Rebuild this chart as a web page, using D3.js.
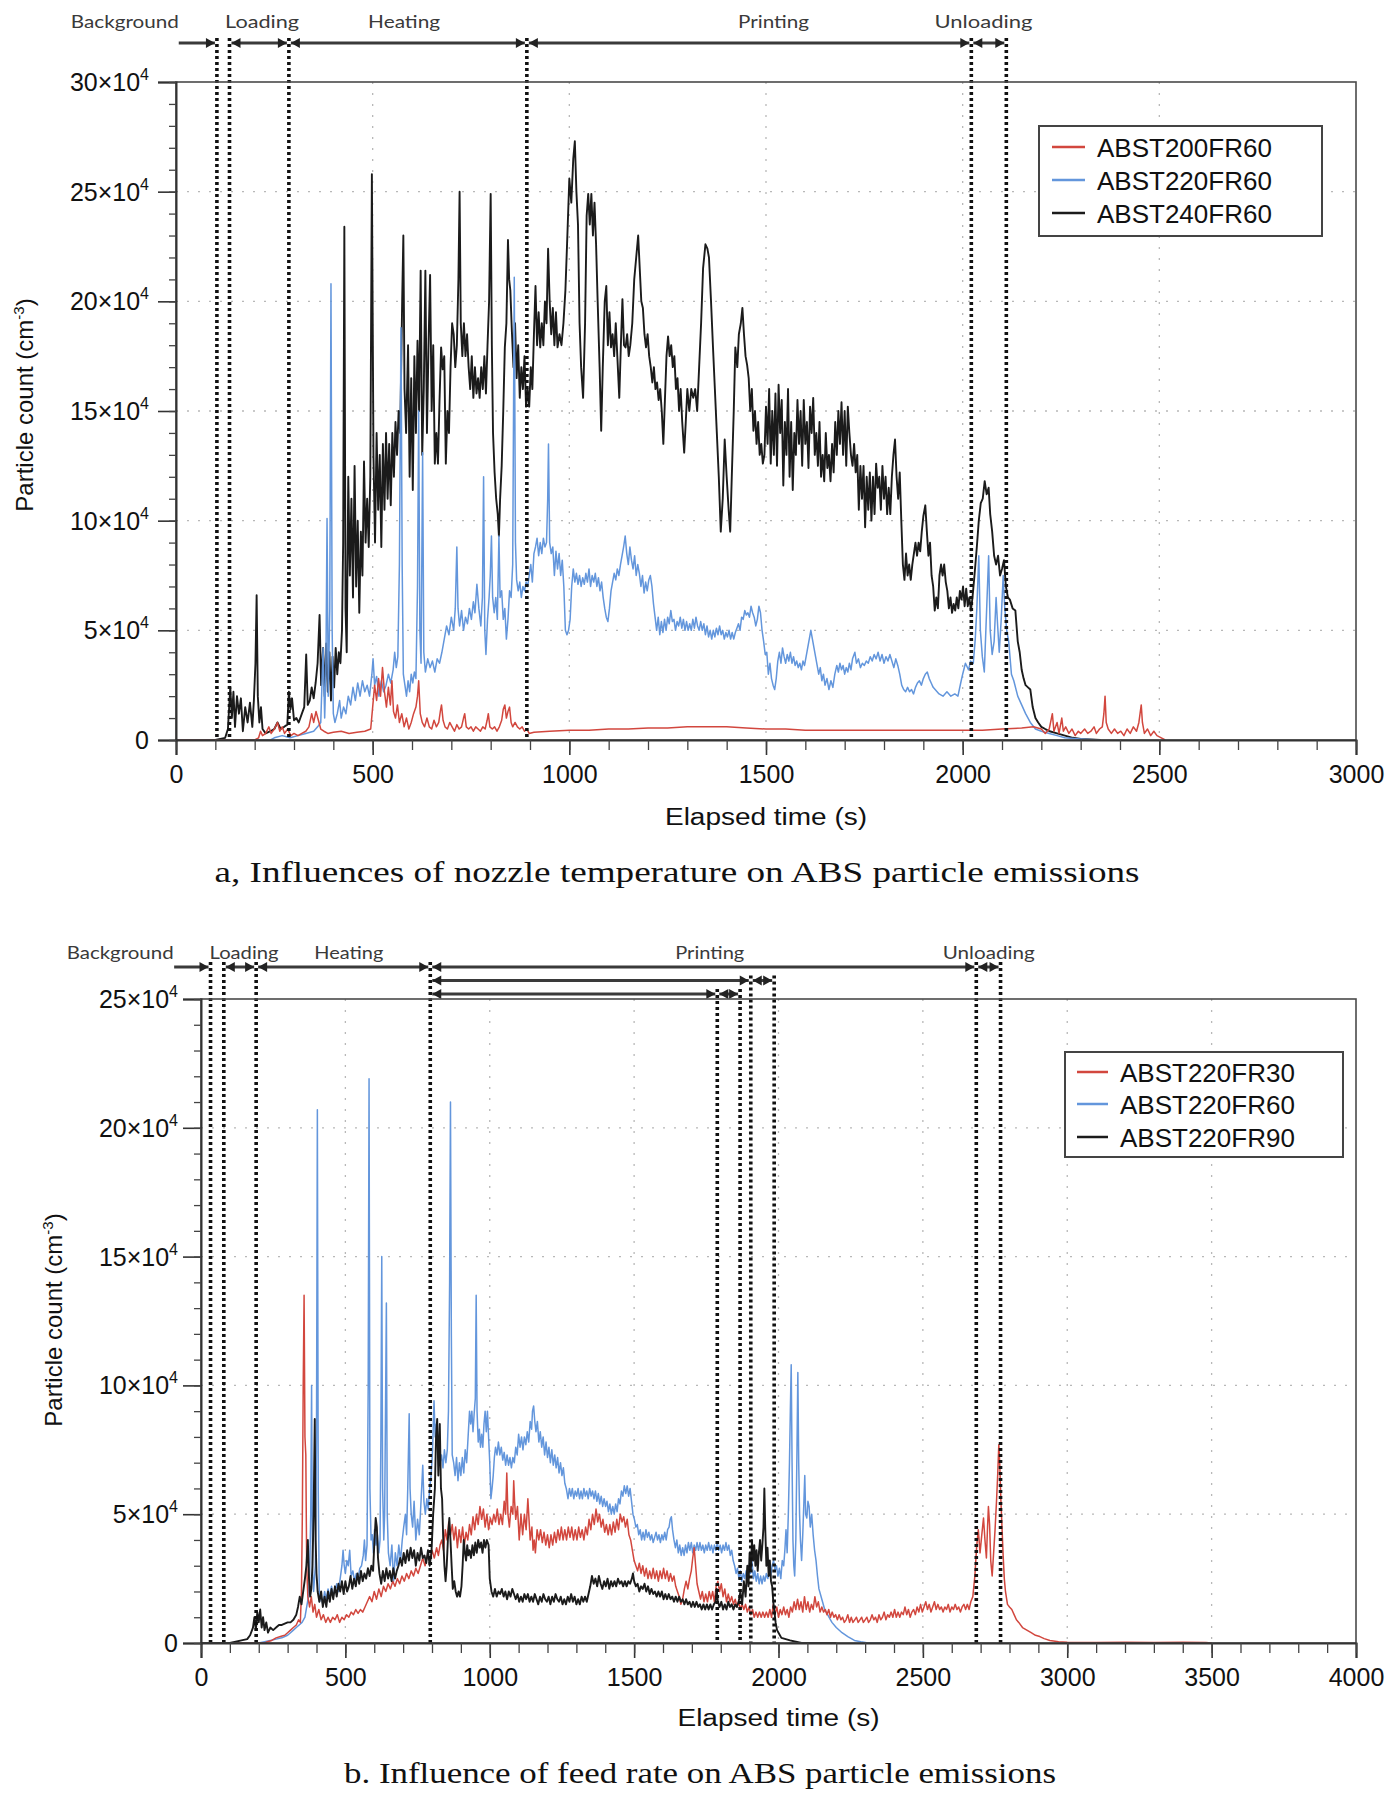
<!DOCTYPE html>
<html><head><meta charset="utf-8">
<script src="https://cdn.jsdelivr.net/npm/d3@7"></script>
<style>body{margin:0;background:#fff}svg{display:block}</style>
</head><body>
<svg id="fig" width="1400" height="1800"></svg>
<script>
// ---------- DATA (particle count in units of 10^4 cm^-3, time in s) ----------
const xTicksA=[0,500,1000,1500,2000,2500,3000];
const yTicksA=[0,5,10,15,20,25,30];
const xTicksB=[0,500,1000,1500,2000,2500,3000,3500,4000];
const yTicksB=[0,5,10,15,20,25];
const seriesNamesA=["ABST200FR60","ABST220FR60","ABST240FR60"];
const seriesNamesB=["ABST220FR30","ABST220FR60","ABST220FR90"];
const phaseNames=["Background","Loading","Heating","Printing","Unloading"];
const phaseLabelTA=[-130,219,580,1519,2053];
const phaseLabelTB=[-280,149,512,1762,2728];
const phaseLinesA=[104,136,287,892,2022,2111];
const arrowStartA=[7,136,287,892,2022];
const arrowEndA=[104,287,892,2022,2111];
const arrowLeftHeadA=[false,true,true,true,true];
const phaseLinesB=[33,79,191,794,1788,1867,1904,1985,2685,2769];
const phaseLineRowB=[0,0,0,0,2,2,1,1,0,0];
const arrowStartB=[-93,79,191,794,2685,794,1904,794,1788];
const arrowEndB=[33,191,794,2685,2769,1904,1985,1788,1867];
const arrowRowB=[0,0,0,0,0,1,1,2,2];
const arrowLeftHeadB=[false,true,true,true,true,true,true,true,true];

const abst200fr60=[[0,0],[200,0],[210,0.1],[215,0.4],[220,0.2],[228,0.3],[236,0.6],[242,0.3],[250,0.5],[258,0.8],[264,0.4],[270,0.6],[276,0.3],[284,0.5],[292,0.2],[300,0.3],[310,0.2],[320,0.3],[330,0.4],[338,0.6],[345,1.2],[350,0.8],[356,1.3],[362,0.9],[368,0.5],[376,0.4],[386,0.3],[400,0.35],[420,0.4],[440,0.3],[460,0.35],[480,0.4],[495,0.5],[500,1.5],[505,2.5],[510,1.8],[515,2.8],[520,2.0],[525,3.3],[530,2.2],[535,1.5],[540,2.4],[545,1.6],[549,2.7],[553,1.3],[558,1.0],[563,1.6],[568,0.8],[574,1.2],[580,0.6],[586,1.0],[592,0.5],[598,0.8],[604,1.2],[610,1.5],[614,2.0],[617,2.7],[621,1.2],[626,0.8],[632,0.6],[638,1.0],[644,0.6],[650,0.5],[656,0.9],[662,0.6],[668,0.8],[672,1.3],[675,1.6],[679,0.9],[684,0.6],[690,0.5],[696,0.8],[702,0.6],[708,0.4],[714,0.7],[720,0.5],[726,0.6],[731,1.0],[734,1.2],[738,0.6],[744,0.5],[750,0.6],[756,0.4],[762,0.6],[768,0.5],[774,0.4],[780,0.6],[786,0.5],[791,0.9],[794,1.2],[798,0.6],[804,0.5],[810,0.6],[816,0.4],[822,0.6],[828,0.9],[832,1.4],[836,1.6],[840,1.0],[844,1.3],[848,1.5],[852,0.8],[856,0.6],[862,0.8],[868,0.6],[874,0.5],[880,0.6],[886,0.4],[892,0.5],[898,0.3],[910,0.35],[950,0.4],[1000,0.45],[1050,0.45],[1100,0.5],[1150,0.5],[1200,0.55],[1250,0.55],[1300,0.6],[1350,0.6],[1400,0.6],[1450,0.55],[1500,0.5],[1550,0.5],[1600,0.45],[1650,0.45],[1700,0.45],[1750,0.45],[1800,0.45],[1850,0.45],[1900,0.45],[1950,0.45],[2000,0.45],[2050,0.45],[2100,0.5],[2150,0.55],[2180,0.6],[2200,0.5],[2210,0.3],[2220,0.5],[2228,1.2],[2232,0.4],[2240,0.8],[2245,0.3],[2252,1.0],[2256,0.4],[2262,0.6],[2270,0.3],[2278,0.5],[2286,0.2],[2294,0.4],[2300,0.3],[2310,0.5],[2318,0.3],[2326,0.4],[2334,0.6],[2340,0.3],[2348,0.5],[2355,0.6],[2359,1.2],[2362,2.0],[2365,0.8],[2370,0.5],[2378,0.3],[2386,0.5],[2394,0.3],[2402,0.4],[2410,0.2],[2418,0.5],[2426,0.3],[2434,0.6],[2442,0.4],[2448,0.8],[2451,1.2],[2454,1.6],[2457,0.8],[2462,0.3],[2470,0.5],[2478,0.2],[2486,0.4],[2494,0.2],[2505,0.1],[2515,0]];

const abst220fr60A=[[0,0],[240,0],[250,0.1],[270,0.2],[290,0.1],[310,0.2],[330,0.3],[350,0.4],[360,0.6],[368,0.8],[374,4.2],[378,1.0],[381,3.0],[384,10.1],[387,2.0],[391,6.0],[394,20.8],[397,5.0],[400,1.2],[404,0.8],[410,1.2],[416,1.8],[420,1.0],[426,1.5],[432,1.2],[438,2.0],[444,1.6],[450,2.4],[456,1.8],[462,2.6],[468,2.0],[474,2.7],[480,2.2],[486,2.5],[492,2.0],[498,3.0],[501,3.7],[505,2.5],[510,2.9],[516,2.0],[522,2.7],[528,2.2],[534,2.5],[540,3.0],[546,2.6],[552,3.2],[556,4.0],[560,3.3],[564,3.8],[568,8.0],[572,18.8],[575,8.0],[578,3.0],[582,2.5],[586,2.0],[590,2.7],[594,2.2],[598,3.0],[602,2.6],[606,3.1],[610,2.8],[614,7.0],[617,15.0],[620,5.0],[623,3.5],[627,13.1],[630,4.0],[634,3.1],[640,3.7],[646,3.3],[652,3.6],[658,3.1],[664,3.7],[670,3.5],[676,4.0],[682,4.6],[688,5.2],[694,4.8],[700,5.6],[706,5.0],[710,6.0],[714,8.8],[717,6.0],[721,5.2],[726,5.9],[731,5.0],[736,5.6],[741,5.3],[746,6.0],[751,5.5],[756,6.3],[760,5.8],[765,7.1],[770,6.0],[775,5.2],[779,6.5],[782,12.0],[785,5.0],[788,3.9],[792,5.5],[796,6.5],[799,7.5],[802,9.3],[805,6.5],[809,5.8],[813,6.5],[817,5.5],[821,9.3],[824,6.5],[828,6.8],[832,5.5],[836,6.0],[840,4.6],[844,5.5],[848,6.8],[852,6.5],[856,8.0],[860,21.1],[863,9.0],[866,7.3],[870,6.8],[874,7.2],[878,6.5],[882,7.0],[886,6.8],[890,7.2],[894,7.0],[898,7.5],[902,8.0],[906,7.2],[910,8.5],[914,8.8],[918,9.2],[922,8.4],[926,9.0],[930,8.5],[934,9.2],[938,8.8],[942,9.0],[945,11.0],[947,13.5],[950,9.0],[954,8.5],[958,8.8],[962,7.5],[966,8.6],[970,7.8],[974,8.5],[978,7.5],[982,8.2],[986,7.0],[990,5.0],[994,4.8],[998,5.0],[1002,5.5],[1006,7.0],[1010,7.8],[1014,7.2],[1018,7.6],[1022,7.1],[1026,7.5],[1030,7.0],[1034,7.4],[1038,7.1],[1042,7.6],[1046,7.2],[1050,7.8],[1054,7.0],[1058,7.5],[1062,7.2],[1066,7.6],[1070,7.0],[1074,7.4],[1078,6.8],[1082,7.2],[1086,6.5],[1090,6.0],[1094,5.6],[1098,5.4],[1102,6.0],[1106,6.8],[1110,7.2],[1114,7.6],[1118,7.3],[1122,7.8],[1126,7.5],[1130,8.0],[1134,8.4],[1138,8.8],[1142,9.3],[1146,8.5],[1150,8.0],[1154,8.8],[1158,8.2],[1162,7.8],[1166,8.4],[1170,7.5],[1174,8.0],[1178,7.6],[1182,7.0],[1186,7.5],[1190,6.7],[1194,7.2],[1198,6.8],[1202,7.3],[1206,7.5],[1210,7.0],[1214,6.2],[1218,5.6],[1222,5.0],[1226,5.6],[1230,4.8],[1234,5.4],[1238,4.9],[1242,5.5],[1246,5.0],[1250,5.6],[1254,5.3],[1258,5.9],[1262,5.4],[1266,5.5],[1270,5.0],[1274,5.4],[1278,5.2],[1282,5.6],[1286,5.1],[1290,5.5],[1294,5.0],[1298,5.4],[1302,5.0],[1306,5.3],[1310,5.0],[1314,5.5],[1318,5.1],[1322,5.6],[1326,5.2],[1330,5.0],[1334,5.4],[1338,5.0],[1342,5.3],[1346,4.8],[1350,5.2],[1354,4.7],[1358,5.0],[1362,4.6],[1366,5.0],[1370,4.7],[1374,5.1],[1378,4.8],[1382,5.2],[1386,4.8],[1390,5.0],[1394,4.6],[1398,4.9],[1402,4.7],[1406,5.0],[1410,4.6],[1414,4.9],[1418,4.6],[1422,4.9],[1426,5.1],[1430,5.3],[1434,5.0],[1438,5.6],[1442,5.5],[1446,5.9],[1450,5.7],[1454,5.8],[1458,5.6],[1462,6.1],[1466,5.8],[1470,5.6],[1474,5.2],[1478,5.5],[1482,6.1],[1486,5.8],[1490,5.0],[1494,4.5],[1498,3.9],[1502,4.0],[1506,3.0],[1510,3.5],[1514,2.8],[1518,2.5],[1522,2.3],[1526,2.8],[1530,3.6],[1534,4.0],[1538,3.5],[1542,4.2],[1546,3.8],[1550,3.5],[1554,3.9],[1558,3.6],[1562,4.0],[1566,3.5],[1570,3.8],[1574,3.4],[1578,3.6],[1582,3.3],[1586,3.5],[1590,3.2],[1594,3.6],[1598,3.4],[1602,3.8],[1606,4.2],[1610,4.6],[1614,5.0],[1618,4.6],[1622,4.2],[1626,3.8],[1630,3.4],[1634,3.0],[1638,3.3],[1642,2.7],[1646,3.0],[1650,2.5],[1655,2.8],[1660,2.3],[1665,2.7],[1670,2.4],[1675,3.0],[1680,3.4],[1684,3.1],[1688,3.5],[1692,3.2],[1696,3.4],[1700,3.0],[1704,3.3],[1708,3.1],[1712,3.5],[1716,3.2],[1720,3.7],[1726,4.0],[1730,3.5],[1735,3.7],[1740,3.3],[1745,3.5],[1750,3.4],[1755,3.6],[1760,3.5],[1765,3.8],[1770,3.6],[1775,3.9],[1780,3.7],[1785,4.0],[1790,3.6],[1795,3.9],[1800,3.5],[1805,3.8],[1810,3.6],[1815,3.9],[1820,3.6],[1825,3.3],[1830,3.7],[1835,3.4],[1840,3.0],[1845,2.5],[1850,2.3],[1855,2.2],[1860,2.4],[1865,2.2],[1870,2.3],[1875,2.1],[1880,2.4],[1885,2.6],[1890,2.7],[1895,2.5],[1900,2.8],[1905,3.0],[1910,3.1],[1915,2.8],[1920,2.6],[1925,2.4],[1930,2.3],[1940,2.1],[1950,2.0],[1960,2.2],[1970,2.0],[1980,2.1],[1988,2.0],[1995,2.6],[2000,3.0],[2007,3.5],[2015,3.2],[2020,3.6],[2027,3.5],[2032,4.6],[2036,6.0],[2041,8.4],[2045,5.0],[2050,3.8],[2055,3.1],[2060,5.5],[2066,8.4],[2070,5.0],[2075,3.9],[2080,4.5],[2085,6.5],[2089,5.2],[2093,4.0],[2098,5.5],[2103,7.5],[2107,6.0],[2112,5.0],[2117,4.5],[2124,3.0],[2130,2.7],[2140,2.0],[2150,1.6],[2160,1.2],[2172,0.8],[2185,0.5],[2200,0.4],[2220,0.3],[2240,0.2],[2260,0.1],[2300,0.05],[2350,0]];

const abst240fr60=[[0,0],[100,0],[125,0.1],[132,0.5],[138,2.4],[142,1.0],[146,2.2],[150,0.6],[155,2.0],[160,1.2],[165,1.9],[170,0.4],[176,1.5],[182,0.8],[188,1.7],[194,0.6],[198,1.8],[202,3.5],[205,6.6],[208,2.0],[212,0.8],[216,1.5],[220,0.5],[228,0.3],[240,0.4],[250,0.5],[258,0.8],[266,0.5],[275,0.6],[283,0.7],[287,2.2],[291,1.4],[295,1.9],[300,0.9],[306,1.0],[312,0.8],[320,1.2],[326,1.5],[331,3.9],[335,1.6],[340,1.8],[345,2.4],[350,1.9],[355,2.6],[360,3.5],[365,5.7],[369,2.5],[374,4.2],[378,2.0],[382,4.4],[386,2.2],[390,4.0],[394,1.8],[398,3.8],[402,2.4],[406,4.2],[410,3.0],[414,4.0],[418,3.5],[422,5.0],[425,9.0],[428,23.4],[431,6.0],[434,4.0],[438,12.0],[442,7.5],[446,11.0],[450,6.5],[454,12.5],[458,7.0],[462,10.0],[466,5.8],[470,9.5],[474,7.5],[478,12.7],[482,9.0],[486,11.0],[490,8.8],[494,12.0],[498,25.8],[502,13.0],[506,9.0],[510,14.0],[514,10.5],[518,13.0],[522,8.8],[526,13.5],[530,10.5],[534,14.0],[538,11.0],[542,13.5],[546,10.7],[550,14.0],[554,12.0],[558,14.5],[562,13.0],[566,15.0],[570,14.0],[575,20.0],[578,23.0],[581,16.0],[585,14.0],[590,18.0],[594,12.0],[598,16.5],[602,11.4],[606,17.5],[610,14.0],[614,18.2],[618,15.0],[622,21.4],[626,13.0],[630,16.0],[634,21.4],[638,14.0],[642,18.0],[646,21.2],[650,15.0],[654,18.0],[658,12.6],[662,14.0],[666,12.6],[670,15.5],[674,17.9],[678,16.9],[682,17.5],[686,12.6],[690,15.0],[694,14.0],[698,17.0],[702,19.0],[706,18.5],[710,17.0],[714,18.0],[718,21.0],[721,25.0],[724,19.0],[728,17.5],[732,19.0],[736,17.5],[740,18.5],[744,17.0],[748,16.0],[752,17.5],[756,15.6],[760,17.0],[764,15.8],[768,16.5],[772,15.6],[776,17.0],[780,16.0],[784,17.5],[788,15.8],[792,18.0],[796,20.0],[800,24.9],[803,18.0],[806,14.0],[810,12.2],[814,11.0],[818,10.3],[821,9.3],[824,11.0],[828,12.5],[832,15.0],[836,17.9],[840,19.0],[844,22.8],[847,21.0],[850,20.5],[854,18.6],[858,17.0],[862,19.0],[866,16.5],[870,18.0],[874,15.6],[878,17.0],[882,16.0],[886,17.5],[890,15.2],[894,16.0],[898,15.2],[902,17.0],[906,16.0],[910,18.5],[914,20.7],[918,18.0],[922,19.5],[926,17.9],[930,19.0],[934,18.0],[938,20.0],[942,19.0],[946,22.4],[950,20.0],[954,18.5],[958,19.7],[962,18.0],[966,19.5],[970,17.9],[975,18.5],[980,18.0],[985,19.0],[990,20.5],[995,23.0],[1000,25.6],[1005,24.5],[1010,26.5],[1014,27.3],[1018,25.0],[1022,23.5],[1026,19.0],[1030,17.0],[1035,15.6],[1040,19.0],[1044,23.9],[1048,24.9],[1052,23.5],[1056,24.9],[1060,23.0],[1064,24.5],[1068,22.6],[1072,20.0],[1077,17.0],[1081,14.1],[1085,17.0],[1090,20.0],[1094,20.7],[1098,18.0],[1102,19.5],[1106,17.9],[1110,18.5],[1114,17.5],[1118,19.0],[1122,17.5],[1127,15.6],[1131,18.0],[1135,20.1],[1139,18.0],[1143,17.9],[1147,18.5],[1151,17.5],[1155,18.0],[1160,19.0],[1165,21.0],[1170,22.0],[1175,23.0],[1179,21.5],[1183,20.0],[1187,19.7],[1191,18.5],[1195,17.9],[1199,18.5],[1203,17.5],[1207,17.0],[1211,16.3],[1215,17.0],[1219,16.0],[1223,16.3],[1227,15.5],[1231,16.0],[1235,15.0],[1239,13.5],[1243,15.5],[1247,17.5],[1251,18.4],[1255,17.5],[1259,18.0],[1263,17.0],[1267,17.5],[1271,16.0],[1275,16.5],[1279,15.0],[1283,16.0],[1287,14.5],[1292,13.1],[1296,14.5],[1300,16.0],[1305,15.0],[1310,16.0],[1315,15.6],[1320,16.0],[1325,15.0],[1330,17.0],[1335,19.0],[1340,21.5],[1346,22.6],[1351,22.4],[1355,22.0],[1360,20.1],[1365,18.0],[1370,16.0],[1375,14.0],[1380,12.0],[1385,9.5],[1390,11.0],[1395,13.7],[1400,12.0],[1405,10.5],[1409,9.5],[1413,12.0],[1418,15.0],[1422,17.9],[1427,17.0],[1431,18.5],[1436,19.0],[1440,19.7],[1444,18.5],[1448,17.5],[1452,17.1],[1456,16.5],[1460,15.0],[1464,16.0],[1468,14.1],[1472,15.0],[1476,13.5],[1480,14.5],[1484,13.0],[1488,13.5],[1492,12.6],[1496,13.0],[1500,15.2],[1504,13.5],[1508,16.0],[1512,12.6],[1516,15.0],[1520,13.0],[1524,15.8],[1528,12.5],[1532,16.2],[1536,14.0],[1540,15.5],[1544,11.6],[1548,14.5],[1552,13.0],[1556,16.0],[1560,12.0],[1564,14.5],[1568,11.4],[1572,14.0],[1576,13.0],[1580,15.5],[1584,13.5],[1588,15.0],[1592,12.5],[1596,15.5],[1600,13.5],[1604,14.5],[1608,12.4],[1612,15.2],[1616,14.0],[1620,15.6],[1624,13.0],[1628,14.0],[1632,12.5],[1636,14.5],[1640,12.0],[1644,13.0],[1648,11.8],[1652,14.0],[1656,12.4],[1660,13.0],[1664,11.8],[1668,13.5],[1672,12.2],[1676,14.5],[1680,13.0],[1684,15.0],[1688,13.5],[1692,15.4],[1696,13.0],[1700,15.0],[1704,12.5],[1708,15.2],[1712,14.0],[1716,13.0],[1720,12.5],[1724,13.5],[1728,12.2],[1732,13.0],[1736,10.5],[1740,12.5],[1744,11.0],[1748,12.5],[1752,9.7],[1756,12.0],[1760,10.5],[1764,12.2],[1768,10.0],[1772,12.0],[1776,10.3],[1780,12.6],[1784,11.5],[1788,12.0],[1792,10.5],[1796,12.5],[1800,11.0],[1804,12.0],[1808,10.3],[1812,11.5],[1816,10.3],[1820,12.0],[1824,13.0],[1828,13.7],[1832,12.0],[1836,11.0],[1840,12.2],[1844,10.0],[1848,8.0],[1852,7.3],[1856,8.5],[1860,7.5],[1864,8.0],[1868,7.3],[1872,8.0],[1876,8.5],[1880,9.0],[1884,8.4],[1888,9.0],[1892,8.6],[1896,9.5],[1900,10.2],[1905,10.7],[1909,9.5],[1913,8.4],[1917,9.0],[1921,7.5],[1925,7.0],[1929,5.9],[1933,6.5],[1937,6.0],[1941,7.5],[1945,8.0],[1949,7.5],[1953,8.0],[1957,7.2],[1961,6.8],[1965,6.0],[1969,6.5],[1973,5.8],[1977,6.2],[1981,5.9],[1985,6.5],[1989,6.0],[1993,6.8],[1997,6.4],[2001,7.0],[2005,6.1],[2009,6.9],[2013,6.1],[2017,6.5],[2021,5.9],[2025,6.5],[2030,7.5],[2036,8.8],[2041,10.0],[2046,10.8],[2051,11.0],[2056,11.8],[2061,11.2],[2066,11.5],[2070,10.3],[2075,9.5],[2080,8.4],[2085,8.0],[2090,8.4],[2095,7.5],[2100,7.8],[2105,8.2],[2110,7.0],[2115,6.5],[2120,6.4],[2127,6.0],[2134,5.9],[2140,4.5],[2145,4.0],[2150,3.2],[2155,2.8],[2160,2.5],[2166,2.4],[2172,2.3],[2178,1.5],[2185,1.0],[2192,0.8],[2200,0.6],[2210,0.5],[2221,0.4],[2240,0.3],[2260,0.2],[2280,0.1],[2300,0.05],[2350,0]];

const abst220fr30=[[0,0],[220,0],[230,0.05],[245,0.1],[260,0.2],[275,0.25],[290,0.3],[300,0.4],[310,0.5],[320,0.6],[330,0.7],[338,0.9],[344,0.8],[348,2.0],[351,5.0],[354,10.0],[357,13.5],[360,8.0],[363,7.3],[366,3.0],[370,1.8],[376,1.4],[382,1.8],[388,1.2],[394,1.5],[400,1.0],[408,1.3],[416,0.9],[424,1.1],[432,0.8],[440,1.0],[448,0.8],[456,1.0],[464,0.9],[472,1.1],[480,0.8],[488,1.0],[496,0.9],[504,1.1],[512,1.0],[520,1.2],[528,1.1],[536,1.3],[544,1.15],[552,1.3],[560,1.2],[568,1.4],[576,1.6],[584,1.8],[592,1.6],[600,2.0],[608,1.7],[616,2.1],[624,1.8],[632,2.2],[640,2.0],[648,2.3],[656,2.1],[664,2.4],[672,2.2],[680,2.5],[688,2.3],[696,2.6],[704,2.4],[712,2.7],[720,2.5],[728,2.8],[736,2.6],[744,2.9],[752,2.7],[760,3.0],[768,3.3],[776,3.0],[784,3.4],[792,3.2],[800,3.6],[808,3.3],[816,3.7],[822,3.4],[828,3.8],[834,4.0],[840,3.6],[846,4.4],[852,4.0],[858,4.7],[864,4.2],[870,4.6],[876,4.0],[882,4.5],[888,3.7],[894,4.4],[900,3.9],[906,4.5],[912,3.8],[918,4.3],[924,4.0],[930,4.6],[936,4.2],[942,4.9],[948,4.4],[954,5.0],[960,4.6],[966,5.3],[972,4.8],[978,5.2],[984,4.5],[990,5.0],[996,4.4],[1002,4.85],[1008,4.6],[1014,5.0],[1020,4.7],[1026,5.2],[1032,4.6],[1038,5.0],[1044,4.6],[1050,5.5],[1055,5.0],[1059,6.6],[1063,5.0],[1068,4.5],[1074,5.3],[1080,5.0],[1083,6.3],[1086,5.5],[1090,4.8],[1096,5.3],[1102,4.0],[1108,5.0],[1114,4.2],[1120,5.0],[1126,4.4],[1132,5.6],[1136,4.8],[1140,4.0],[1146,4.5],[1150,3.6],[1154,4.0],[1158,3.5],[1164,4.4],[1170,4.0],[1176,4.4],[1182,3.9],[1188,4.3],[1194,3.8],[1200,4.2],[1206,3.7],[1212,4.2],[1218,3.8],[1224,4.3],[1230,3.9],[1236,4.4],[1242,4.0],[1248,4.5],[1254,4.0],[1260,4.4],[1266,4.0],[1272,4.5],[1278,4.1],[1284,4.5],[1290,4.0],[1296,4.4],[1302,4.0],[1308,4.5],[1314,4.1],[1320,4.4],[1326,4.0],[1332,4.5],[1338,4.2],[1344,4.8],[1350,4.4],[1356,5.0],[1362,4.6],[1368,5.2],[1374,4.7],[1380,5.0],[1386,4.5],[1392,4.8],[1398,4.3],[1404,4.6],[1410,4.2],[1416,4.6],[1422,4.2],[1428,4.7],[1434,4.3],[1440,4.8],[1446,4.4],[1452,5.0],[1458,4.7],[1464,4.9],[1470,4.5],[1476,4.8],[1482,4.2],[1488,4.0],[1494,3.6],[1500,3.2],[1506,3.0],[1512,2.8],[1518,3.1],[1524,2.7],[1530,3.0],[1536,2.6],[1542,2.9],[1548,2.5],[1554,2.8],[1560,2.5],[1566,2.9],[1572,2.5],[1578,2.8],[1584,2.4],[1590,2.8],[1596,2.5],[1602,2.9],[1608,2.5],[1614,2.8],[1620,2.4],[1626,2.7],[1632,2.4],[1638,2.6],[1644,2.2],[1650,2.0],[1656,1.8],[1662,1.5],[1668,1.7],[1674,2.1],[1680,2.4],[1686,2.1],[1692,2.5],[1698,2.8],[1703,3.3],[1708,3.7],[1713,3.0],[1718,2.3],[1724,2.0],[1730,1.7],[1736,2.0],[1742,1.6],[1748,1.9],[1754,1.6],[1760,2.0],[1766,1.7],[1772,2.0],[1778,1.6],[1784,2.2],[1790,2.4],[1796,2.0],[1802,2.3],[1808,1.8],[1814,2.1],[1820,1.6],[1826,1.9],[1832,1.6],[1838,1.8],[1844,1.5],[1850,1.7],[1856,1.4],[1862,1.6],[1868,1.3],[1874,1.5],[1880,1.3],[1886,1.5],[1892,1.2],[1898,1.4],[1904,1.1],[1910,1.3],[1916,1.0],[1922,1.2],[1928,1.0],[1934,1.2],[1940,1.0],[1946,1.2],[1952,1.0],[1958,1.2],[1964,1.0],[1970,1.3],[1976,1.0],[1982,1.5],[1988,1.1],[1994,1.4],[2000,1.0],[2006,1.3],[2012,1.1],[2018,1.4],[2024,1.1],[2030,1.3],[2036,1.0],[2042,1.4],[2048,1.2],[2054,1.6],[2060,1.3],[2066,1.7],[2072,1.3],[2078,1.6],[2084,1.2],[2090,1.8],[2096,1.3],[2102,1.6],[2108,1.2],[2114,1.5],[2120,1.3],[2126,1.8],[2132,1.4],[2138,1.6],[2144,1.2],[2150,1.4],[2156,1.2],[2162,1.3],[2168,1.1],[2174,1.3],[2180,1.0],[2186,1.2],[2192,1.0],[2198,1.1],[2204,0.9],[2210,1.1],[2216,0.9],[2222,1.0],[2228,0.8],[2234,0.9],[2240,1.1],[2246,0.8],[2252,1.0],[2258,0.8],[2264,0.9],[2270,1.0],[2276,0.8],[2282,0.9],[2288,1.0],[2294,0.8],[2300,0.9],[2306,1.0],[2312,0.8],[2318,0.9],[2324,1.1],[2330,0.9],[2336,1.0],[2342,0.8],[2348,1.1],[2354,0.9],[2360,1.0],[2366,1.2],[2372,0.9],[2378,1.1],[2384,1.0],[2390,1.2],[2396,1.0],[2402,1.3],[2408,1.0],[2414,1.2],[2420,1.0],[2426,1.2],[2432,1.1],[2438,1.4],[2444,1.1],[2450,1.3],[2456,1.0],[2462,1.2],[2468,1.3],[2474,1.1],[2480,1.4],[2486,1.2],[2492,1.5],[2498,1.2],[2504,1.4],[2510,1.6],[2516,1.3],[2522,1.5],[2528,1.2],[2534,1.4],[2540,1.6],[2546,1.3],[2552,1.5],[2558,1.3],[2564,1.4],[2570,1.2],[2576,1.4],[2582,1.3],[2588,1.5],[2594,1.2],[2600,1.4],[2606,1.3],[2612,1.5],[2618,1.3],[2624,1.4],[2630,1.2],[2636,1.4],[2642,1.5],[2648,1.3],[2654,1.5],[2660,1.3],[2666,1.6],[2673,1.8],[2680,2.6],[2686,3.7],[2692,4.4],[2698,3.5],[2704,4.2],[2710,4.85],[2715,4.0],[2720,3.3],[2724,4.5],[2727,5.3],[2731,4.6],[2735,3.2],[2740,2.6],[2745,3.5],[2750,4.4],[2755,5.5],[2759,6.5],[2763,7.7],[2766,7.0],[2770,5.6],[2774,4.5],[2778,3.4],[2782,2.5],[2786,2.0],[2793,1.5],[2800,1.4],[2808,1.3],[2816,1.1],[2824,0.9],[2832,0.8],[2845,0.6],[2860,0.5],[2875,0.4],[2890,0.3],[2905,0.25],[2920,0.17],[2940,0.1],[2970,0.05],[3000,0.03],[3100,0.02],[3200,0.03],[3300,0.02],[3400,0.03],[3480,0.02],[3500,0]];

const abst220fr60B=[[0,0],[200,0],[220,0.05],[240,0.1],[260,0.15],[280,0.2],[300,0.3],[310,0.4],[320,0.5],[330,0.6],[340,0.7],[350,0.8],[360,1.0],[366,1.4],[372,1.8],[376,2.5],[380,5.0],[383,10.0],[386,3.0],[390,2.0],[396,3.0],[400,8.0],[403,20.7],[406,6.0],[410,1.6],[416,1.8],[422,1.5],[428,2.0],[434,1.7],[440,2.1],[446,1.8],[452,2.2],[458,1.9],[464,2.0],[470,2.3],[476,2.0],[482,2.5],[488,3.0],[492,3.6],[496,3.0],[500,2.7],[505,3.2],[510,3.0],[515,3.6],[520,2.6],[526,2.8],[532,2.4],[538,2.7],[544,2.5],[550,2.9],[556,3.0],[562,3.4],[566,4.0],[570,3.2],[575,3.8],[579,10.0],[582,21.9],[585,6.0],[589,4.0],[593,4.2],[597,3.5],[601,4.4],[606,3.8],[611,4.2],[616,3.5],[620,4.0],[623,8.0],[626,15.0],[629,6.0],[633,4.0],[636,5.0],[639,9.0],[642,13.2],[645,5.0],[649,3.5],[655,3.0],[661,3.8],[667,2.4],[673,3.5],[679,3.0],[685,3.8],[691,3.2],[697,4.0],[702,4.5],[708,5.0],[712,4.2],[716,6.0],[721,8.9],[724,6.0],[728,5.0],[733,4.5],[738,5.5],[744,4.0],[750,4.8],[756,4.2],[762,5.5],[768,6.9],[772,5.5],[777,5.0],[782,5.6],[787,5.2],[792,6.0],[797,6.5],[802,7.5],[807,9.4],[811,8.0],[815,8.5],[819,8.1],[823,7.5],[828,7.0],[833,7.3],[838,6.8],[843,7.5],[848,7.0],[853,7.5],[857,9.0],[861,14.0],[864,21.0],[867,12.0],[870,7.3],[875,7.0],[880,6.5],[885,7.2],[890,6.3],[895,7.0],[900,6.5],[905,7.2],[910,6.6],[915,7.5],[920,7.0],[925,8.0],[930,9.0],[934,8.5],[938,9.0],[942,8.2],[946,8.9],[950,9.5],[953,13.5],[956,9.0],[960,7.8],[964,8.3],[968,7.6],[972,8.1],[976,7.6],[980,8.5],[984,9.0],[988,8.2],[992,9.0],[996,8.0],[1000,7.0],[1004,5.6],[1008,6.0],[1012,6.5],[1016,7.2],[1020,7.6],[1025,7.3],[1030,7.8],[1035,7.3],[1040,7.6],[1045,7.1],[1050,7.4],[1055,6.9],[1060,7.3],[1065,6.9],[1070,7.2],[1075,6.8],[1080,7.2],[1085,7.0],[1090,7.6],[1095,7.3],[1100,8.1],[1105,7.6],[1110,8.0],[1115,7.5],[1120,8.0],[1125,7.7],[1130,8.2],[1135,7.8],[1140,8.6],[1145,8.3],[1148,9.0],[1152,9.2],[1156,8.6],[1160,8.2],[1165,8.6],[1170,7.8],[1175,8.2],[1180,7.6],[1185,8.0],[1190,7.3],[1195,7.8],[1200,7.2],[1205,7.6],[1210,7.0],[1215,7.5],[1220,6.9],[1225,7.3],[1230,6.8],[1235,7.2],[1240,6.6],[1245,7.0],[1250,6.5],[1255,6.8],[1260,6.2],[1265,6.0],[1271,5.6],[1276,6.0],[1281,5.7],[1286,6.0],[1291,5.6],[1296,5.9],[1301,5.7],[1306,6.0],[1311,5.6],[1316,5.9],[1321,5.6],[1326,6.0],[1331,5.7],[1336,5.9],[1341,5.6],[1346,6.0],[1351,5.7],[1356,5.9],[1361,5.6],[1366,5.9],[1371,5.5],[1376,5.8],[1381,5.4],[1386,5.7],[1391,5.3],[1396,5.6],[1401,5.3],[1406,5.5],[1411,5.1],[1416,5.4],[1421,5.0],[1426,5.3],[1431,5.0],[1436,5.4],[1441,5.1],[1446,5.6],[1451,5.4],[1456,5.9],[1461,5.7],[1466,6.1],[1471,5.8],[1476,6.1],[1481,5.7],[1486,6.0],[1491,5.5],[1496,5.0],[1501,4.8],[1506,4.5],[1511,4.6],[1516,4.2],[1521,4.4],[1526,4.0],[1531,4.3],[1536,4.0],[1541,4.4],[1546,4.1],[1551,4.3],[1556,4.0],[1561,4.2],[1566,3.9],[1571,4.1],[1576,4.3],[1581,4.0],[1586,4.2],[1591,3.9],[1596,4.2],[1601,4.0],[1606,4.3],[1611,4.0],[1616,4.4],[1621,4.5],[1625,4.8],[1629,4.9],[1633,4.4],[1638,4.0],[1643,3.7],[1648,4.0],[1653,3.5],[1658,3.8],[1663,3.4],[1668,3.7],[1673,3.4],[1678,3.8],[1683,3.5],[1688,3.9],[1693,3.6],[1698,3.9],[1703,3.5],[1708,3.8],[1713,3.6],[1718,3.9],[1723,3.6],[1728,3.9],[1733,3.6],[1738,3.8],[1743,3.5],[1748,3.8],[1753,3.6],[1758,3.9],[1763,3.6],[1768,3.8],[1773,3.5],[1778,3.8],[1783,3.6],[1788,3.9],[1793,3.6],[1798,3.8],[1803,3.5],[1808,3.8],[1813,3.6],[1818,3.9],[1823,3.6],[1828,3.8],[1833,3.4],[1838,3.6],[1843,3.2],[1848,3.0],[1853,2.7],[1858,2.9],[1863,2.5],[1868,2.8],[1873,2.4],[1878,2.7],[1883,2.5],[1888,2.8],[1893,2.6],[1898,3.0],[1903,2.7],[1908,3.2],[1913,2.5],[1918,2.8],[1923,2.4],[1928,2.7],[1933,2.3],[1938,2.6],[1943,2.3],[1948,2.6],[1953,2.4],[1958,2.7],[1963,2.5],[1968,2.8],[1973,2.6],[1978,3.0],[1983,3.2],[1988,2.8],[1993,3.0],[1998,2.6],[2003,2.9],[2008,2.5],[2013,3.2],[2018,3.0],[2022,3.6],[2026,4.4],[2030,3.5],[2034,5.0],[2038,7.0],[2041,9.0],[2044,10.8],[2047,7.0],[2050,4.0],[2053,3.0],[2056,2.6],[2060,4.0],[2064,7.5],[2067,10.5],[2070,7.0],[2073,5.0],[2076,4.0],[2080,3.2],[2084,4.2],[2088,5.5],[2091,6.5],[2094,5.0],[2098,4.85],[2102,5.5],[2106,5.3],[2110,4.5],[2115,5.0],[2120,4.2],[2125,3.6],[2130,3.2],[2135,2.6],[2140,2.1],[2150,1.7],[2160,1.3],[2170,1.1],[2185,0.8],[2200,0.6],[2220,0.4],[2240,0.25],[2263,0.1],[2285,0.05],[2310,0],[2400,0]];

const abst220fr90=[[0,0],[100,0],[120,0.05],[140,0.1],[160,0.15],[170,0.3],[180,0.6],[185,1.0],[190,0.5],[195,1.2],[200,0.8],[205,1.3],[210,0.6],[215,1.0],[220,0.5],[226,0.8],[232,0.4],[240,0.6],[250,0.5],[260,0.6],[270,0.7],[280,0.7],[290,0.75],[300,0.8],[310,0.8],[320,0.9],[330,1.1],[336,1.4],[342,1.8],[348,1.5],[354,2.0],[360,2.5],[365,3.0],[370,4.0],[374,2.5],[378,1.8],[382,2.1],[386,3.0],[390,5.0],[394,8.7],[397,4.0],[400,2.7],[404,2.0],[410,1.6],[416,2.0],[422,1.4],[428,1.8],[434,1.4],[440,2.0],[446,1.6],[452,2.1],[458,1.7],[464,2.2],[470,1.8],[476,2.3],[482,2.0],[488,2.4],[494,1.9],[500,2.4],[506,2.0],[512,2.2],[518,2.6],[524,2.1],[530,2.5],[536,2.2],[542,2.7],[548,2.3],[554,2.8],[560,2.4],[566,2.7],[572,2.5],[578,2.9],[584,2.6],[590,3.0],[596,2.8],[600,3.8],[605,4.85],[609,4.5],[613,3.3],[618,2.7],[624,2.3],[630,2.8],[636,2.4],[642,2.9],[648,2.5],[654,2.8],[660,2.4],[666,2.9],[672,2.5],[678,2.8],[684,3.0],[690,3.3],[696,3.0],[702,3.5],[708,3.1],[714,3.6],[720,3.2],[726,3.7],[732,3.3],[738,3.6],[744,3.0],[750,3.5],[756,3.2],[762,3.7],[768,3.3],[774,3.4],[780,3.1],[786,3.6],[792,3.0],[798,3.5],[804,5.0],[810,6.0],[814,8.0],[818,8.7],[822,6.5],[827,8.5],[831,6.0],[835,5.6],[839,4.0],[843,3.0],[847,2.4],[851,3.0],[855,4.0],[860,4.85],[864,4.0],[868,3.0],[872,2.1],[877,2.4],[882,2.0],[887,1.8],[892,2.0],[897,1.8],[902,2.2],[906,3.0],[910,4.0],[914,3.5],[918,3.2],[922,3.8],[926,3.4],[930,3.6],[935,3.3],[940,3.8],[945,3.4],[950,3.9],[955,3.5],[960,4.0],[965,3.7],[970,3.9],[975,3.5],[980,4.0],[985,3.7],[990,4.0],[996,3.8],[1000,2.5],[1006,2.0],[1012,1.8],[1018,2.1],[1024,1.8],[1030,2.0],[1036,1.9],[1042,2.1],[1048,1.8],[1054,2.0],[1060,1.7],[1066,2.0],[1072,1.8],[1078,2.1],[1084,1.9],[1090,1.7],[1096,1.9],[1102,1.6],[1108,1.8],[1114,1.6],[1120,1.9],[1126,1.7],[1132,1.9],[1138,1.6],[1144,1.8],[1150,1.6],[1156,1.9],[1162,1.7],[1168,1.5],[1174,1.8],[1180,1.6],[1186,1.9],[1192,1.7],[1198,1.6],[1204,1.8],[1210,1.5],[1216,1.8],[1222,1.6],[1228,1.9],[1234,1.7],[1240,1.6],[1246,1.8],[1252,1.5],[1258,1.7],[1264,1.5],[1270,1.8],[1276,1.6],[1282,1.9],[1288,1.6],[1294,1.8],[1300,1.5],[1306,1.7],[1312,1.5],[1318,1.8],[1324,1.6],[1330,1.8],[1336,1.6],[1342,1.9],[1348,2.2],[1354,2.6],[1360,2.3],[1366,2.5],[1372,2.2],[1378,2.6],[1384,2.3],[1390,2.1],[1396,2.4],[1402,2.2],[1408,2.5],[1414,2.1],[1420,2.4],[1426,2.2],[1432,2.4],[1438,2.2],[1444,2.5],[1450,2.3],[1456,2.4],[1462,2.2],[1468,2.4],[1474,2.2],[1480,2.4],[1486,2.3],[1492,2.5],[1496,2.7],[1500,2.4],[1506,2.2],[1512,2.3],[1518,2.0],[1524,2.2],[1530,2.1],[1536,2.3],[1542,2.0],[1548,2.2],[1554,1.9],[1560,2.1],[1566,1.9],[1572,2.0],[1578,1.8],[1584,2.0],[1590,1.8],[1596,2.0],[1602,1.7],[1608,1.9],[1614,1.7],[1620,1.9],[1626,1.7],[1632,1.8],[1638,1.6],[1644,1.8],[1650,1.6],[1656,1.8],[1662,1.6],[1668,1.7],[1674,1.5],[1680,1.7],[1686,1.5],[1692,1.6],[1698,1.4],[1704,1.6],[1710,1.4],[1716,1.6],[1722,1.4],[1728,1.5],[1734,1.3],[1740,1.5],[1746,1.3],[1752,1.5],[1758,1.3],[1764,1.5],[1770,1.3],[1776,1.5],[1782,1.6],[1786,2.1],[1790,1.6],[1796,1.4],[1802,1.6],[1808,1.3],[1814,1.5],[1820,1.3],[1826,1.6],[1832,1.4],[1838,1.5],[1844,1.3],[1850,1.5],[1856,1.4],[1862,1.6],[1868,2.0],[1874,1.5],[1880,2.4],[1886,1.8],[1892,3.0],[1896,2.2],[1900,3.5],[1904,2.8],[1908,4.0],[1912,3.2],[1916,3.8],[1920,3.0],[1924,3.6],[1928,2.8],[1932,3.5],[1936,4.0],[1940,3.2],[1944,3.8],[1948,4.5],[1951,6.0],[1954,4.5],[1958,3.0],[1962,3.7],[1966,2.6],[1970,3.2],[1974,2.4],[1978,2.2],[1982,1.6],[1986,1.2],[1990,0.8],[1995,0.5],[2000,0.4],[2010,0.2],[2025,0.15],[2040,0.1],[2060,0.05],[2080,0],[2200,0]];

// ---------- DRAWING ----------
const svg=d3.select("#fig");
const SANS="'Liberation Sans', Arial, Helvetica, sans-serif";
const COL={red:"#d2473e",blue:"#6396dc",black:"#1b1b1b"};

function panel(c){
  const x=d3.scaleLinear().domain(c.xDomain).range([c.left,c.right]);
  const y=d3.scaleLinear().domain(c.yDomain).range([c.bottom,c.top]);
  const g=svg.append("g");
  // grid
  g.selectAll(null).data(c.xTicks.slice(1,-1)).join("line")
    .attr("x1",d=>x(d)).attr("x2",d=>x(d)).attr("y1",c.top).attr("y2",c.bottom)
    .attr("stroke","#b8b8b8").attr("stroke-width",1.3).attr("stroke-dasharray","2,9");
  g.selectAll(null).data(c.yTicks.slice(1,-1)).join("line")
    .attr("x1",c.left).attr("x2",c.right).attr("y1",d=>y(d)).attr("y2",d=>y(d))
    .attr("stroke","#b8b8b8").attr("stroke-width",1.3).attr("stroke-dasharray","2,9");
  // series
  const line=d3.line().x(d=>x(d[0])).y(d=>y(d[1]));
  c.drawOrder.forEach(i=>{
    const s=c.series[i];
    g.append("path").datum(s.data).attr("d",line).attr("fill","none")
      .attr("stroke",s.color).attr("stroke-width",s.width).attr("stroke-linejoin","round");
  });
  // phase dotted lines
  c.phaseLines.forEach((t,i)=>{
    g.append("line").attr("x1",x(t)).attr("x2",x(t))
      .attr("y1",c.rowY[c.phaseLineRow[i]]-5).attr("y2",c.bottom)
      .attr("stroke","#111").attr("stroke-width",3.6).attr("stroke-dasharray","3,3");
  });
  // arrows
  c.arrowStart.forEach((t0,i)=>{
    const yy=c.rowY[c.arrowRow[i]];
    const xa=x(t0)+(c.arrowLeft[i]?2:0), xb=x(c.arrowEnd[i])-2;
    g.append("line").attr("x1",xa).attr("x2",xb).attr("y1",yy).attr("y2",yy)
      .attr("stroke","#3a3a3a").attr("stroke-width",3);
    g.append("path").attr("d",`M${xb},${yy}L${xb-9},${yy-5}L${xb-9},${yy+5}Z`).attr("fill","#222");
    if(c.arrowLeft[i]) g.append("path").attr("d",`M${xa},${yy}L${xa+9},${yy-5}L${xa+9},${yy+5}Z`).attr("fill","#222");
  });
  // phase labels
  phaseNames.forEach((n,i)=>{
    g.append("text").attr("x",x(c.phaseLabelT[i])).attr("y",c.labelY).attr("text-anchor","middle")
      .attr("font-family","Lato, 'Open Sans', sans-serif").attr("font-size",17).attr("fill","#3a3a3a")
      .attr("textLength",c.labelLen[i]).attr("lengthAdjust","spacingAndGlyphs").text(n);
  });
  // frame
  g.append("rect").attr("x",c.left).attr("y",c.top).attr("width",c.right-c.left).attr("height",c.bottom-c.top)
    .attr("fill","none").attr("stroke","#4a4a4a").attr("stroke-width",1.6);
  // axes
  const ax=g.append("g").attr("transform",`translate(0,${c.bottom})`)
    .call(d3.axisBottom(x).tickValues(c.xTicks).tickSize(15).tickPadding(10).tickFormat(d3.format("d")));
  ax.select(".domain").attr("stroke","#333").attr("stroke-width",2);
  ax.selectAll(".tick line").attr("stroke","#333").attr("stroke-width",1.6);
  ax.selectAll(".tick text").attr("font-family",SANS).attr("font-size",25).attr("fill","#111");
  const axm=g.append("g").attr("transform",`translate(0,${c.bottom})`)
    .call(d3.axisBottom(x).tickValues(d3.range(c.xDomain[0],c.xDomain[1]+1,100)).tickSize(10).tickFormat(""));
  axm.select(".domain").remove(); axm.selectAll(".tick line").attr("stroke","#444").attr("stroke-width",1.3);
  const ay=g.append("g").attr("transform",`translate(${c.left},0)`)
    .call(d3.axisLeft(y).tickValues(c.yTicks).tickSize(18).tickFormat(""));
  ay.select(".domain").attr("stroke","#333").attr("stroke-width",2);
  ay.selectAll(".tick line").attr("stroke","#333").attr("stroke-width",1.6);
  const aym=g.append("g").attr("transform",`translate(${c.left},0)`)
    .call(d3.axisLeft(y).tickValues(d3.range(c.yDomain[0],c.yDomain[1]+0.5,1)).tickSize(7).tickFormat(""));
  aym.select(".domain").remove(); aym.selectAll(".tick line").attr("stroke","#444").attr("stroke-width",1.3);
  // y tick labels with superscript
  c.yTicks.forEach(v=>{
    const t=g.append("text").attr("x",c.left-c.yLabelGap).attr("y",y(v)+9).attr("text-anchor","end")
      .attr("font-family",SANS).attr("font-size",25).attr("fill","#111");
    if(v===0){t.text("0");}
    else{t.append("tspan").text(v+"×10");t.append("tspan").attr("dy",-11).attr("font-size",16).text("4");}
  });
  // axis titles
  g.append("text").attr("x",(c.left+c.right)/2).attr("y",c.xTitleY).attr("text-anchor","middle")
    .attr("font-family",SANS).attr("font-size",23).attr("fill","#111")
    .attr("textLength",202).attr("lengthAdjust","spacingAndGlyphs").text("Elapsed time (s)");
  const yt=g.append("text").attr("transform",`translate(${c.yTitleX},${c.yTitleY}) rotate(-90)`)
    .attr("text-anchor","middle").attr("font-family",SANS).attr("font-size",24).attr("fill","#111");
  yt.append("tspan").text("Particle count (cm");
  yt.append("tspan").attr("dy",-9).attr("font-size",15).text("-3");
  yt.append("tspan").attr("dy",9).text(")");
  // caption
  g.append("text").attr("x",c.capX).attr("y",c.capY).attr("text-anchor","middle")
    .attr("font-family","'Liberation Serif', 'Times New Roman', serif").attr("font-size",30).attr("fill","#111")
    .attr("textLength",c.capLen).attr("lengthAdjust","spacingAndGlyphs").text(c.caption);
  // legend
  const L=c.legend;
  g.append("rect").attr("x",L.x).attr("y",L.y).attr("width",L.w).attr("height",L.h)
    .attr("fill","#fff").attr("stroke","#444").attr("stroke-width",2);
  c.series.forEach((s,i)=>{
    const yy=L.rowY[i];
    g.append("line").attr("x1",L.lx0).attr("x2",L.lx1).attr("y1",yy).attr("y2",yy)
      .attr("stroke",s.color).attr("stroke-width",2.5);
    g.append("text").attr("x",L.tx).attr("y",yy+9.5).attr("font-family",SANS).attr("font-size",26)
      .attr("fill","#111").text(s.name);
  });
}

panel({
  xDomain:[0,3000], yDomain:[0,30], left:176, right:1356, top:82, bottom:740,
  xTicks:xTicksA, yTicks:yTicksA, yLabelGap:27,
  series:[{name:seriesNamesA[0],data:abst200fr60,color:COL.red,width:1.5},
          {name:seriesNamesA[1],data:abst220fr60A,color:COL.blue,width:1.5},
          {name:seriesNamesA[2],data:abst240fr60,color:COL.black,width:1.9}],
  drawOrder:[2,1,0],
  phaseLines:phaseLinesA, phaseLineRow:phaseLinesA.map(()=>0),
  arrowStart:arrowStartA, arrowEnd:arrowEndA, arrowRow:arrowStartA.map(()=>0), arrowLeft:arrowLeftHeadA,
  rowY:[43], labelY:28, phaseLabelT:phaseLabelTA, labelLen:[108,74,72,71,98],
  xTitleY:825, yTitleX:33, yTitleY:405,
  caption:"a, Influences of nozzle temperature on ABS particle emissions", capX:677, capY:882, capLen:925,
  legend:{x:1039,y:126,w:283,h:110,rowY:[147,180,213],lx0:1052,lx1:1085,tx:1097}
});

panel({
  xDomain:[0,4000], yDomain:[0,25], left:201, right:1356, top:999, bottom:1643,
  xTicks:xTicksB, yTicks:yTicksB, yLabelGap:23,
  series:[{name:seriesNamesB[0],data:abst220fr30,color:COL.red,width:1.5},
          {name:seriesNamesB[1],data:abst220fr60B,color:COL.blue,width:1.5},
          {name:seriesNamesB[2],data:abst220fr90,color:COL.black,width:1.9}],
  drawOrder:[1,0,2],
  phaseLines:phaseLinesB, phaseLineRow:phaseLineRowB,
  arrowStart:arrowStartB, arrowEnd:arrowEndB, arrowRow:arrowRowB, arrowLeft:arrowLeftHeadB,
  rowY:[967,980.5,994], labelY:959, phaseLabelT:phaseLabelTB, labelLen:[107,69,69,69,92],
  xTitleY:1726, yTitleX:62, yTitleY:1320,
  caption:"b. Influence of feed rate on ABS particle emissions", capX:700, capY:1783, capLen:712,
  legend:{x:1065,y:1052,w:278,h:105,rowY:[1072,1104,1137],lx0:1077,lx1:1108,tx:1120}
});
</script>
</body></html>
